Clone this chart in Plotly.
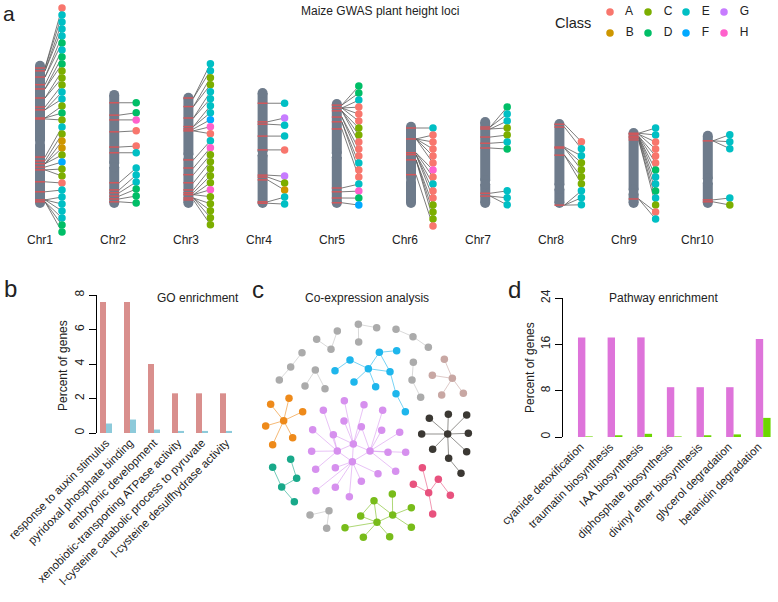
import plotly.graph_objects as go

W, H = 778, 602
FONT = "Liberation Sans, Arial, sans-serif"

# ======================= DATA =======================
# ---- Panel a : GWAS loci on maize chromosomes (Mb) ----
chrom_names = [f"Chr{i}" for i in range(1, 11)]
chrom_len = [309, 248, 242, 252, 229, 181, 191, 187, 168, 162]
centromere = [172, 158, 134, 137, 118, 122, 137, 143, 134, 105]
gene_pos = [
    [15, 15, 21, 21, 34, 34, 50, 59, 59, 78, 78, 97, 103, 103, 120, 120, 122,
     202, 210, 216, 216, 216, 223, 229, 229, 254, 275, 292, 292, 292, 296, 296, 296],
    [27, 53, 63, 88, 120, 132, 195, 210, 216, 223, 229, 235],
    [11, 11, 29, 29, 53, 53, 71, 71, 76, 80, 80,
     141, 158, 172, 189, 204, 210, 214, 214, 214, 221, 221, 221, 225],
    [32, 71, 76, 101, 130, 183, 187, 193, 239, 242],
    [13, 13, 19, 19, 19, 19, 25, 25, 25, 38, 38, 48, 48, 63, 187, 195, 208, 218],
    [13, 36, 36, 36, 36, 36, 65, 65, 69, 69, 69, 80, 80, 80, 111],
    [21, 21, 25, 25, 42, 55, 65, 160, 166, 166],
    [11, 17, 59, 61, 61, 76, 76, 181, 181, 181],
    [11, 11, 13, 13, 17, 17, 19, 19, 21, 21, 25, 25, 149, 149],
    [21, 21, 21, 145, 149],
]
gene_class = [
    "AEEEEDEDDCCCEECDCECBBCFCCAEEEEEDD",
    "DDHAAEEEEDDD",
    "EECCEEEEFHAEHCCCCCHCCCCC",
    "EGEEAGCBEE",
    "DDEAAACCAAAEAAEHDF",
    "EAAAAAHAEAACCCA",
    "DEECCEDEEE",
    "AEECCCCEEE",
    "EEAAAADEEDECAE",
    "EEEEC",
]
# label (dot) positions along each chromosome: (first position Mb, count)
label_runs = [
    [(-111, 33)],
    [(27, 1), (48, 1), (63, 1), (86, 1), (118, 1), (132, 1), (164, 6)],
    [(-61, 24)],
    [(32, 1), (63, 1), (78, 1), (101, 1), (130, 1), (185, 5)],
    [(-27, 18)],
    [(13, 15)],
    [(-21, 7), (155, 3)],
    [(48, 10)],
    [(0, 14)],
    [(8, 3), (141, 2)],
]
class_names = ["A", "B", "C", "D", "E", "F", "G", "H"]

# ---- Panel b : GO enrichment ----
go_terms = ["response to auxin stimulus", "pyridoxal phosphate binding",
            "embryonic development", "xenobiotic-transporting ATPase activity",
            "l-cysteine catabolic process to pyruvate", "l-cysteine desulfhydrase activity"]
go_test = [7.6, 7.6, 4.0, 2.3, 2.3, 2.3]
go_background = [0.55, 0.78, 0.2, 0.12, 0.12, 0.12]
go_ticks = [0, 2, 4, 6, 8]

# ---- Panel d : Pathway enrichment ----
pw_terms = ["cyanide detoxification", "traumatin biosynthesis", "IAA biosynthesis",
            "diphosphate biosynthesis", "divinyl ether biosynthesis",
            "glycerol degradation", "betanidin degradation"]
pw_test = [17.2, 17.2, 17.2, 8.6, 8.6, 8.6, 16.9]
pw_background = [0.1, 0.3, 0.55, 0.1, 0.3, 0.45, 3.3]
pw_ticks = [0, 8, 16, 24]

# ---- Panel c : co-expression network (layout coordinates) ----
net_grey_x = [325, 326, 380, 438, 489, 535, 262, 243, 200, 156, 122, 88, 196, 165, 225,
              490, 486, 512, 180, 237, 230]
net_grey_y = [163, 216, 173, 178, 200, 232, 183, 238, 208, 248, 291, 330, 300, 348, 356,
              277, 330, 382, 735, 722, 775]
net_grey_e = [(0, 1), (0, 2), (3, 4), (4, 5), (6, 7), (7, 8), (9, 10), (10, 11),
              (12, 13), (12, 14), (15, 16), (16, 17), (18, 19), (19, 20)]
net_blue_x = [388, 440, 300, 255, 355, 420, 312, 377, 438, 466]
net_blue_y = [247, 242, 270, 302, 296, 305, 336, 350, 371, 425]
net_blue_e = [(0, 1), (0, 4), (2, 4), (2, 3), (4, 6), (4, 7), (4, 5), (0, 5), (5, 8), (8, 9)]
net_brown_x = [583, 547, 607, 575, 640]
net_brown_y = [268, 316, 325, 375, 370]
net_brown_e = [(2, 0), (2, 1), (2, 3), (2, 4)]
net_orange_x = [62, 117, 158, 101, 47, 128, 68]
net_orange_y = [403, 385, 425, 452, 468, 503, 524]
net_orange_e = [(3, 0), (3, 1), (3, 2), (3, 4), (3, 5), (3, 6)]
net_teal_x = [122, 68, 140, 95, 133]
net_teal_y = [568, 592, 625, 651, 695]
net_teal_e = [(1, 3), (3, 2), (2, 0), (3, 4)]
net_purple_x = [283, 342, 398, 220, 282, 334, 395, 449, 188, 250, 310, 262, 360, 185, 414,
                467, 307, 197, 256, 384, 437, 334, 198, 256, 298]
net_purple_y = [392, 404, 421, 421, 453, 470, 481, 487, 479, 494, 522, 543, 543, 544, 547,
                547, 575, 598, 593, 611, 604, 634, 662, 652, 680]
net_purple_e = [(10, 0), (10, 4), (10, 9), (10, 1), (12, 5), (12, 6), (12, 7), (12, 2),
                (12, 14), (12, 15), (12, 20), (16, 21), (16, 24), (16, 18), (11, 13),
                (11, 8), (11, 3), (11, 17), (16, 22), (16, 23), (10, 12), (10, 16),
                (11, 16), (12, 16), (11, 10), (16, 19), (11, 9), (10, 5)]
net_black_x = [593, 538, 595, 650, 515, 655, 548, 650, 596, 633]
net_black_y = [492, 445, 433, 435, 492, 490, 538, 545, 565, 610]
net_black_e = [(0, 1), (0, 2), (0, 3), (0, 4), (0, 5), (0, 6), (0, 7), (0, 8), (8, 9)]
net_pink_x = [517, 565, 490, 536, 601, 548]
net_pink_y = [593, 628, 643, 668, 676, 732]
net_pink_e = [(3, 0), (3, 2), (3, 1), (3, 5), (1, 4)]
net_green_x = [372, 427, 332, 428, 381, 484, 484, 285, 340, 419]
net_green_y = [692, 672, 738, 735, 757, 713, 772, 773, 802, 800]
net_green_e = [(4, 0), (4, 2), (4, 7), (4, 8), (4, 9), (4, 3), (3, 1), (3, 5), (3, 6),
               (0, 3), (2, 0)]

# ======================= STYLE =======================
class_colors = ["#F8766D", "#CD9600", "#7CAE00", "#00BE67",
                "#00BFC4", "#00A9FF", "#C77CFF", "#FF61CC"]
CHROM_COLOR = "#6E7B8B"
BAND_COLOR = "#D0575B"
LINK_COLOR = "#5A5A5A"
GO_COLORS = ["#D98F8D", "#8DCADA"]
PW_COLORS = ["#DE74DA", "#6CD600"]


def pxy(py):
    return 1 - py / H


def pxx(px):
    return px / W


fig = go.Figure()

# ======================= Panel a =======================
CHR_X0, CHR_DX = 40, 74.2      # px of chr1 centre, px between chromosomes
MB_PER_PX = 2.1
BASE_PX = 208                   # chromosome bottoms
A_BOT_PX = 265
LABEL_STEP = 7 * MB_PER_PX
DOT_DX = 22 / CHR_DX
HALF_W = 5 / CHR_DX
R_MB = 5 * MB_PER_PX
PINCH = 2 * MB_PER_PX

link_x, link_y = [], []
arm_x, arm_y = [], []
band_x, band_y = [], []
dot_x, dot_y, dot_c = [], [], []
for i in range(10):
    xi = i + 1
    L = chrom_len[i]
    labels = []
    for s, n in label_runs[i]:
        labels += [s + k * LABEL_STEP for k in range(n)]
    for p, lab, cl in zip(gene_pos[i], labels, gene_class[i]):
        link_x += [xi + HALF_W, xi + DOT_DX, None]
        link_y += [L - p, L - lab, None]
        dot_x.append(xi + DOT_DX)
        dot_y.append(L - lab)
        dot_c.append(class_colors[class_names.index(cl)])
    c = centromere[i]
    arm_x += [xi, xi, None, xi, xi, None]
    arm_y += [L - R_MB, L - (c - PINCH), None, L - (c + PINCH), R_MB, None]
    for p in sorted(set(gene_pos[i])):
        band_x += [xi - HALF_W, xi + HALF_W, None]
        band_y += [L - p, L - p, None]

fig.add_trace(go.Scatter(x=link_x, y=link_y, mode="lines",
                         line=dict(color=LINK_COLOR, width=0.8),
                         hoverinfo="skip", xaxis="x", yaxis="y"))
fig.add_trace(go.Scatter(x=arm_x, y=arm_y, mode="lines+markers",
                         line=dict(color=CHROM_COLOR, width=10),
                         marker=dict(color=CHROM_COLOR, size=10, line=dict(width=0)),
                         hoverinfo="skip", xaxis="x", yaxis="y"))
fig.add_trace(go.Scatter(x=band_x, y=band_y, mode="lines",
                         line=dict(color=BAND_COLOR, width=1.5),
                         hoverinfo="skip", xaxis="x", yaxis="y"))
fig.add_trace(go.Scatter(x=dot_x, y=dot_y, mode="markers",
                         marker=dict(color=dot_c, size=7.5, line=dict(width=0)),
                         hoverinfo="skip", xaxis="x", yaxis="y"))

# legend (own small axis: column / row grid)
leg_col = [k // 2 for k in range(8)]
leg_row = [k % 2 for k in range(8)]
fig.add_trace(go.Scatter(x=leg_col, y=leg_row, mode="markers+text",
                         text=["   " + n for n in class_names], textposition="middle right",
                         textfont=dict(family=FONT, size=12, color="#222"),
                         marker=dict(color=class_colors, size=7.5, line=dict(width=0)),
                         hoverinfo="skip", xaxis="x5", yaxis="y5"))

# ======================= Panel b =======================
fig.add_trace(go.Bar(x=list(range(len(go_terms))), y=go_test, marker_color=GO_COLORS[0],
                     marker_line_width=0, xaxis="x2", yaxis="y2"))
fig.add_trace(go.Bar(x=list(range(len(go_terms))), y=go_background, marker_color=GO_COLORS[1],
                     marker_line_width=0, xaxis="x2", yaxis="y2"))

# ======================= Panel d =======================
fig.add_trace(go.Bar(x=list(range(len(pw_terms))), y=pw_test, marker_color=PW_COLORS[0],
                     marker_line_width=0, xaxis="x3", yaxis="y3"))
fig.add_trace(go.Bar(x=list(range(len(pw_terms))), y=pw_background, marker_color=PW_COLORS[1],
                     marker_line_width=0, xaxis="x3", yaxis="y3"))

# ======================= Panel c =======================
clusters = [
    (net_grey_x, net_grey_y, net_grey_e, "#ABABAB", "rgba(171,171,171,0.45)"),
    (net_blue_x, net_blue_y, net_blue_e, "#1EB6EC", "rgba(30,182,236,0.6)"),
    (net_brown_x, net_brown_y, net_brown_e, "#C8A7A3", "rgba(200,167,163,0.6)"),
    (net_orange_x, net_orange_y, net_orange_e, "#EE8A1A", "rgba(238,138,26,0.6)"),
    (net_teal_x, net_teal_y, net_teal_e, "#18A98A", "rgba(24,169,138,0.6)"),
    (net_purple_x, net_purple_y, net_purple_e, "#D690EE", "rgba(214,144,238,0.55)"),
    (net_black_x, net_black_y, net_black_e, "#3B3833", "rgba(59,56,51,0.55)"),
    (net_pink_x, net_pink_y, net_pink_e, "#E8527E", "rgba(232,82,126,0.6)"),
    (net_green_x, net_green_y, net_green_e, "#78BC1A", "rgba(120,188,26,0.6)"),
]
for xs, ys, es, col, ecol in clusters:
    ex, ey = [], []
    for a, b in es:
        ex += [xs[a], xs[b], None]
        ey += [ys[a], ys[b], None]
    fig.add_trace(go.Scatter(x=ex, y=ey, mode="lines", line=dict(color=ecol, width=1),
                             hoverinfo="skip", xaxis="x4", yaxis="y4"))
for xs, ys, es, col, ecol in clusters:
    fig.add_trace(go.Scatter(x=xs, y=ys, mode="markers",
                             marker=dict(color=col, size=7.5, line=dict(width=0)),
                             hoverinfo="skip", xaxis="x4", yaxis="y4"))

# ======================= Layout =======================
hidden = dict(visible=False, showgrid=False, zeroline=False, fixedrange=True, automargin=False)
bar_y_common = dict(showline=True, linecolor="black", linewidth=1, ticks="outside",
                    ticklen=7, tickcolor="black", tickwidth=1, tickangle=-90,
                    showgrid=False, zeroline=False, automargin=False, fixedrange=True,
                    tickfont=dict(family=FONT, size=12, color="#222"))
bar_x_common = dict(showline=False, ticks="", showgrid=False, zeroline=False, tickangle=-45,
                    automargin=False, fixedrange=True)

fig.update_layout(
    template="none",
    width=W, height=H, margin=dict(l=0, r=0, t=0, b=0, pad=0), autosize=False,
    paper_bgcolor="white", plot_bgcolor="white", showlegend=False,
    hovermode=False,
    barmode="group", bargap=0.5, bargroupgap=0,
    font=dict(family=FONT, color="#222"),
    xaxis=dict(domain=[0, 1], range=[1 - CHR_X0 / CHR_DX, 1 + (W - CHR_X0) / CHR_DX],
               anchor="y", **hidden),
    yaxis=dict(domain=[pxy(A_BOT_PX), 1],
               range=[-(A_BOT_PX - BASE_PX) * MB_PER_PX, BASE_PX * MB_PER_PX],
               anchor="x", **hidden),
    xaxis5=dict(domain=[pxx(600), pxx(760)], range=[-10 / 38, 150 / 38], anchor="y5", **hidden),
    yaxis5=dict(domain=[pxy(45), 1], range=[33 / 21, -12 / 21], anchor="x5", **hidden),
    xaxis2=dict(domain=[pxx(97), pxx(238)], range=[-0.375, 5.5], anchor="y2",
                tickvals=list(range(len(go_terms))), ticktext=go_terms,
                tickfont=dict(family=FONT, size=11.5, color="#222"), **bar_x_common),
    yaxis2=dict(domain=[pxy(433), pxy(295)], range=[0, 8], anchor="x2",
                tickvals=go_ticks, **bar_y_common),
    xaxis3=dict(domain=[pxx(563), 1], range=[-0.755, 6.5], anchor="y3",
                tickvals=list(range(len(pw_terms))), ticktext=pw_terms, ticklabelshift=-5,
                tickfont=dict(family=FONT, size=11.5, color="#222"), **bar_x_common),
    yaxis3=dict(domain=[pxy(437), pxy(298)], range=[0, 24], anchor="x3",
                tickvals=pw_ticks, **bar_y_common),
    xaxis4=dict(domain=[pxx(250), pxx(510)], range=[0, 780], anchor="y4", **hidden),
    yaxis4=dict(domain=[0, pxy(270)], range=[996, 0], anchor="x4", **hidden),
)

ann = []


def txt(x, y, s, size=12, **kw):
    d = dict(x=x, y=y, xref="paper", yref="paper", text=s, showarrow=False,
             font=dict(family=FONT, size=size, color="#222"), xanchor="center", yanchor="middle")
    d.update(kw)
    ann.append(d)


LABEL_DX = 73
for i, name in enumerate(chrom_names):
    txt(pxx(40 + i * LABEL_DX), pxy(240), name, 12)
txt(pxx(380), pxy(11), "Maize GWAS plant height loci", 12)
txt(pxx(573), pxy(23), "Class", 14.5)
txt(pxx(198), pxy(298), "GO enrichment", 12)
txt(pxx(367), pxy(298), "Co-expression analysis", 12)
txt(pxx(663), pxy(298), "Pathway enrichment", 12)
txt(pxx(63), pxy(365), "Percent of genes", 12, textangle=-90)
txt(pxx(530), pxy(368), "Percent of genes", 12, textangle=-90)
txt(pxx(9), 1, "a", 21, yanchor="top")
txt(pxx(10), pxy(288), "b", 24)
txt(pxx(258), pxy(289), "c", 24)
txt(pxx(514), pxy(289), "d", 24)
fig.update_layout(annotations=ann)

# remove the browser's default 8px page margin so the figure fills the window exactly
fig.write_html("out.html", config={"displayModeBar": False, "staticPlot": True},
               post_script="document.body.style.margin='0';")
